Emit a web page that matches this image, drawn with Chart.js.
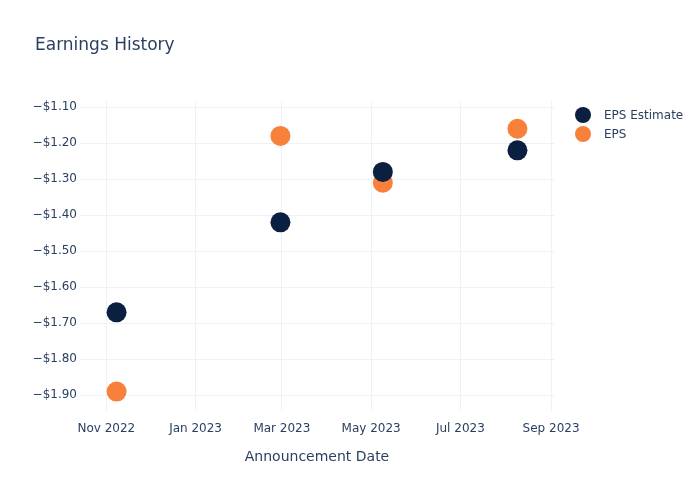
<!DOCTYPE html>
<html>
<head>
<meta charset="utf-8">
<script src="https://cdn.jsdelivr.net/npm/chart.js@4/dist/chart.umd.min.js"></script>
<style>
  html, body { margin: 0; padding: 0; background: #fff; }
  #wrap { width: 700px; height: 500px; }
</style>
</head>
<body>
<div id="wrap"><canvas id="myChart" width="700" height="500"></canvas></div>
<script>
// data
var announceDates = ["2022-11-08", "2023-02-28", "2023-05-09", "2023-08-09"];
var epsEstimate = [-1.67, -1.42, -1.28, -1.22];
var epsActual = [-1.89, -1.18, -1.31, -1.16];
var xTickDates = ["2022-11-01", "2023-01-01", "2023-03-01", "2023-05-01", "2023-07-01", "2023-09-01"];
var xTickLabels = ["Nov 2022", "Jan 2023", "Mar 2023", "May 2023", "Jul 2023", "Sep 2023"];
var yTicks = [-1.1, -1.2, -1.3, -1.4, -1.5, -1.6, -1.7, -1.8, -1.9];

var fontFam = "'DejaVu Sans', Verdana, sans-serif";
var textColor = "#2a3f5f";
var gridColor = "#eef1f7";

function ts(d) { return Date.parse(d + "T00:00:00Z"); }

function points(vals) {
  var out = [];
  for (var i = 0; i < vals.length; i++) {
    out.push({ x: ts(announceDates[i]), y: vals[i] });
  }
  return out;
}

var xTickValues = xTickDates.map(ts);

// title + legend drawn on top, plotly-ish
var extras = {
  id: "extras",
  afterDraw: function (chart) {
    var c = chart.ctx;
    c.save();
    c.fillStyle = textColor;
    c.font = "17px " + fontFam;
    c.textBaseline = "middle";
    c.textAlign = "left";
    c.fillText("Earnings History", 35, 46);

    c.font = "12px " + fontFam;
    chart.data.datasets.forEach(function (ds, i) {
      var y = 115 + i * 19;
      c.beginPath();
      c.arc(583, y, 8, 0, Math.PI * 2);
      c.fillStyle = ds.backgroundColor;
      c.fill();
      c.fillStyle = textColor;
      c.fillText(ds.label, 604, y + 1);
    });
    c.restore();
  }
};

var ctx = document.getElementById("myChart").getContext("2d");
var chart = new Chart(ctx, {
  type: "scatter",
  data: {
    datasets: [{
      label: "EPS Estimate",
      data: points(epsEstimate),
      backgroundColor: "#0b1f41",
      borderColor: "#0b1f41",
      pointRadius: 10,
      pointHoverRadius: 10,
      borderWidth: 0
    }, {
      label: "EPS",
      data: points(epsActual),
      backgroundColor: "#f7813a",
      borderColor: "#f7813a",
      pointRadius: 10,
      pointHoverRadius: 10,
      borderWidth: 0
    }]
  },
  options: {
    responsive: false,
    animation: false,
    layout: { padding: { top: 101, right: 146, bottom: 34, left: 0 } },
    plugins: {
      legend: { display: false },
      title: { display: false },
      tooltip: { enabled: false }
    },
    scales: {
      x: {
        type: "linear",
        min: ts("2022-10-14"),
        max: ts("2023-09-03"),
        afterFit: function (s) { s.height = 55; },
        afterBuildTicks: function (s) {
          s.ticks = xTickValues.map(function (v) { return { value: v }; });
        },
        ticks: {
          color: textColor,
          font: { family: fontFam, size: 12 },
          padding: 11,
          maxRotation: 0,
          autoSkip: false,
          callback: function (v) {
            var i = xTickValues.indexOf(v);
            return i >= 0 ? xTickLabels[i] : "";
          }
        },
        grid: { color: gridColor, drawTicks: false },
        border: { display: false },
        title: {
          display: true,
          text: "Announcement Date",
          color: textColor,
          font: { family: fontFam, size: 14 },
          padding: { top: 4, bottom: 0 }
        }
      },
      y: {
        min: -1.944,
        max: -1.083,
        afterFit: function (s) { s.width = 80; },
        afterBuildTicks: function (s) {
          s.ticks = yTicks.map(function (v) { return { value: v }; });
        },
        ticks: {
          color: textColor,
          font: { family: fontFam, size: 12 },
          padding: 3,
          callback: function (v) {
            return "\u2212$" + Math.abs(v).toFixed(2);
          }
        },
        grid: { color: gridColor, drawTicks: false },
        border: { display: false }
      }
    }
  },
  plugins: [extras]
});
</script>
</body>
</html>
